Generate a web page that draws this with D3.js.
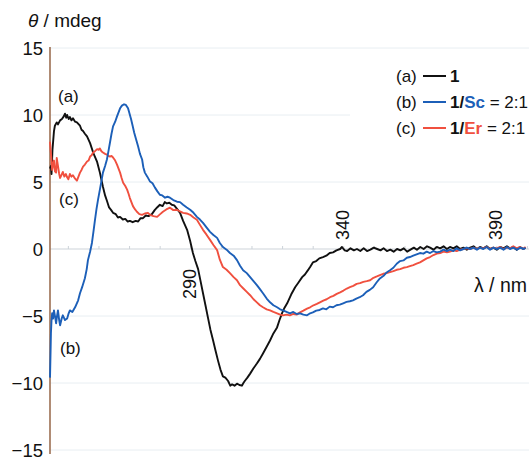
<!DOCTYPE html>
<html>
<head>
<meta charset="utf-8">
<script src="https://cdn.jsdelivr.net/npm/d3@7"></script>
<style>
  body { margin: 0; background: #fff; }
  text { font-family: "Liberation Sans", Arial, sans-serif; fill: #111; }
</style>
</head>
<body>
<svg width="529" height="459"></svg>
<script>
// CD spectra, [wavelength nm, theta mdeg]
const curveA = [[244.0,6.0],[244.3,6.2],[244.5,5.6],[244.8,7.4],[245.3,8.8],[245.6,9.2],[246.2,9.45],[246.6,9.3],[247.3,9.6],[247.9,9.7],[248.5,9.9],[248.9,10.1],[249.3,9.8],[249.6,10.0],[250.1,9.7],[250.5,9.85],[251.0,9.6],[251.5,9.75],[252.2,9.5],[252.8,9.45],[253.4,9.3],[253.8,9.2],[254.3,8.9],[254.8,8.8],[255.4,8.6],[256.1,8.4],[257.1,7.9],[258.1,7.2],[259.4,6.5],[260.3,5.7],[261.3,4.65],[262.0,4.0],[262.6,3.6],[263.3,3.1],[264.0,2.9],[264.6,2.7],[265.5,2.6],[266.2,2.35],[266.9,2.4],[267.8,2.2],[268.6,2.25],[269.4,2.05],[270.1,2.1],[271.0,2.0],[272.0,2.1],[272.8,2.05],[273.6,2.3],[274.4,2.3],[275.3,2.5],[276.2,2.45],[277.3,2.6],[278.2,2.9],[279.0,3.1],[279.9,3.3],[280.8,3.2],[281.5,3.5],[282.2,3.4],[283.0,3.45],[283.8,3.3],[284.6,3.25],[285.5,3.0],[286.5,2.7],[287.5,2.1],[288.8,1.43],[289.8,0.6],[290.7,-0.3],[291.5,-0.9],[292.4,-1.5],[293.2,-2.4],[294.0,-3.3],[294.8,-4.2],[295.6,-5.1],[296.4,-6.0],[297.3,-6.83],[298.1,-7.6],[298.9,-8.33],[299.7,-9.0],[300.5,-9.5],[301.3,-9.6],[302.2,-9.85],[302.9,-10.2],[303.5,-10.1],[304.3,-10.2],[305.1,-10.05],[305.9,-10.15],[306.7,-10.2],[307.2,-10.0],[307.7,-9.83],[308.5,-9.6],[309.4,-9.3],[310.5,-8.9],[311.6,-8.55],[312.6,-8.2],[313.6,-7.8],[314.8,-7.3],[315.9,-6.83],[317.0,-6.3],[318.2,-5.85],[319.0,-5.3],[319.8,-4.8],[320.6,-4.4],[321.5,-4.05],[322.8,-3.4],[324.1,-2.85],[325.2,-2.5],[326.4,-2.1],[327.3,-1.9],[328.3,-1.58],[329.1,-1.3],[329.9,-1.0],[331.0,-0.9],[332.0,-0.7],[333.2,-0.6],[334.3,-0.5],[335.4,-0.3],[336.5,-0.25],[337.6,-0.1],[338.8,0],[339.4,0.15],[340.3,-0.1],[341.1,-0.15],[342.2,0.05],[343.3,-0.1],[344.3,0],[345.4,-0.15],[346.5,0.05],[347.6,-0.15],[348.7,-0.05],[349.8,0.1],[350.9,0],[352.0,-0.1],[353.0,0.05],[354.1,-0.15],[355.2,-0.05],[356.3,-0.2],[357.4,0],[358.5,-0.1],[359.6,0.05],[360.7,-0.2],[361.8,-0.05],[362.9,0.1],[363.9,-0.05],[365.0,0.15],[366.1,0],[367.2,0.2],[368.2,0.1],[369.3,-0.05],[370.4,0.15],[371.5,0.05],[372.6,0.2],[373.7,0],[374.7,0.15],[375.8,0.05],[376.9,0.2],[378.0,0],[379.1,0.1],[380.2,-0.05],[381.3,0.1],[382.4,0.2],[383.5,0],[384.5,0.15],[385.6,0.05],[386.7,0.2],[387.8,0],[388.9,0.1],[390.0,-0.05],[391.1,0.15],[392.2,0.05],[393.3,0.2],[394.3,0.05],[395.4,0.15],[396.5,-0.05],[397.6,0.15],[398.6,0],[399.4,0.1]];

const curveB = [[244.0,-9.6],[244.2,-7.5],[244.3,-6.3],[244.5,-5.3],[244.7,-4.8],[245.0,-5.2],[245.3,-4.58],[245.7,-5.1],[246.0,-5.55],[246.3,-5.0],[246.6,-4.58],[247.0,-5.3],[247.3,-5.7],[247.8,-5.2],[248.2,-4.95],[248.9,-5.3],[249.6,-5.18],[250.1,-4.8],[250.5,-4.58],[251.3,-4.7],[252.2,-4.35],[253.2,-3.83],[253.8,-3.3],[254.5,-2.85],[255.4,-2.18],[256.0,-1.5],[256.4,-0.83],[257.1,-0.2],[257.7,0.45],[258.2,1.3],[258.7,2.18],[259.2,3.0],[259.7,3.68],[260.3,4.43],[261.3,5.7],[262.0,6.2],[262.6,6.68],[263.1,7.3],[263.6,7.95],[264.1,8.6],[264.6,9.15],[265.3,9.5],[265.9,9.9],[266.4,10.2],[266.9,10.5],[267.5,10.7],[268.2,10.8],[268.8,10.75],[269.5,10.5],[270.0,10.1],[270.5,9.68],[271.0,9.2],[271.5,8.7],[272.1,8.2],[272.8,7.65],[273.4,7.1],[274.1,6.68],[274.5,6.1],[275.0,5.7],[275.8,5.4],[276.7,5.03],[277.5,4.9],[278.3,4.58],[279.1,4.3],[279.9,4.05],[280.7,4.0],[281.6,3.83],[282.4,3.9],[283.2,3.83],[284.3,3.65],[285.5,3.53],[286.5,3.5],[287.5,3.3],[288.7,3.1],[289.8,2.93],[290.9,2.7],[292.0,2.4],[293.0,2.2],[294.0,1.95],[295.2,1.6],[296.3,1.28],[297.4,1.05],[298.6,0.83],[299.5,0.45],[300.5,0.15],[301.7,-0.05],[302.8,-0.3],[304.0,-0.5],[305.1,-0.83],[306.1,-1.25],[307.1,-1.58],[308.3,-1.8],[309.4,-2.1],[310.5,-2.4],[311.6,-2.7],[312.6,-3.0],[313.6,-3.3],[314.8,-3.7],[315.9,-3.98],[317.0,-4.2],[318.2,-4.35],[319.2,-4.5],[320.1,-4.58],[321.3,-4.7],[322.4,-4.8],[323.5,-4.7],[324.6,-4.85],[325.7,-4.8],[326.8,-4.9],[328.0,-4.95],[329.0,-4.8],[329.9,-4.73],[331.0,-4.6],[332.1,-4.55],[333.2,-4.43],[334.3,-4.5],[335.4,-4.3],[336.5,-4.35],[337.6,-4.2],[338.7,-4.15],[339.8,-4.05],[340.9,-3.95],[342.0,-3.9],[343.0,-3.83],[344.1,-3.7],[345.2,-3.6],[346.3,-3.45],[347.4,-3.2],[348.5,-3.05],[349.6,-2.85],[350.7,-2.5],[351.8,-2.2],[353.0,-2.0],[354.0,-1.75],[355.1,-1.58],[356.2,-1.4],[357.3,-1.1],[358.4,-0.9],[359.5,-0.85],[360.6,-0.65],[361.6,-0.6],[362.7,-0.5],[363.8,-0.4],[364.9,-0.3],[366.0,-0.35],[367.1,-0.2],[368.2,-0.3],[369.3,-0.15],[370.4,-0.25],[371.5,-0.2],[372.6,-0.05],[373.7,-0.15],[374.7,-0.05],[375.8,-0.15],[376.9,0.05],[378.0,-0.1],[379.1,0],[380.2,0.1],[381.3,0],[382.4,0.1],[383.5,-0.05],[384.5,0.1],[385.6,0],[386.7,0.15],[387.8,-0.05],[388.9,0.1],[390.0,0],[391.1,0.1],[392.2,-0.05],[393.3,0.15],[394.3,0],[395.4,0.1],[396.6,-0.05],[397.7,0.1],[398.8,0],[399.4,0.1]];

const curveC = [[244.0,8.0],[244.2,7.4],[244.4,6.9],[244.7,5.9],[245.0,6.3],[245.3,6.6],[245.6,5.8],[246.0,5.7],[246.2,6.8],[246.6,6.2],[247.0,5.6],[247.3,5.3],[247.7,5.5],[248.2,5.75],[248.7,5.4],[249.2,5.6],[249.6,5.35],[250.0,5.2],[250.5,5.6],[251.0,5.4],[251.5,5.5],[252.2,5.25],[252.8,5.1],[253.3,5.4],[253.8,5.7],[254.3,5.9],[254.8,6.15],[255.4,6.3],[256.1,6.53],[256.6,6.6],[257.1,6.9],[257.6,7.0],[258.1,7.2],[258.7,7.3],[259.4,7.45],[259.9,7.4],[260.3,7.5],[260.8,7.3],[261.3,7.2],[262.0,7.1],[262.6,7.05],[263.1,6.95],[263.6,6.9],[264.1,6.95],[264.6,6.83],[265.3,6.6],[265.9,6.3],[266.4,6.0],[266.9,5.7],[267.4,5.3],[267.9,4.95],[268.6,4.7],[269.2,4.43],[269.7,4.1],[270.1,3.8],[270.6,3.5],[271.1,3.2],[271.8,2.95],[272.4,2.78],[273.2,2.6],[274.1,2.55],[275.0,2.65],[276.0,2.7],[276.7,2.55],[277.8,2.45],[279.0,2.4],[280.0,2.6],[280.9,2.78],[282.0,2.95],[283.2,3.08],[284.3,2.9],[285.5,2.93],[286.5,2.8],[287.5,2.7],[288.7,2.65],[289.8,2.55],[290.9,2.35],[292.0,2.18],[293.0,1.8],[294.0,1.43],[295.2,1.05],[296.3,0.68],[297.4,0.3],[298.6,-0.08],[299.5,-0.8],[300.5,-1.35],[301.7,-1.55],[302.8,-1.8],[304.0,-2.1],[305.1,-2.33],[306.1,-2.7],[307.1,-2.93],[308.3,-3.2],[309.4,-3.45],[310.5,-3.75],[311.6,-3.98],[312.6,-4.2],[313.6,-4.35],[314.8,-4.5],[315.9,-4.58],[317.0,-4.7],[318.2,-4.8],[319.2,-4.9],[320.1,-4.95],[321.3,-4.9],[322.4,-4.95],[323.5,-4.85],[324.6,-4.9],[325.7,-4.73],[326.8,-4.6],[328.0,-4.45],[329.0,-4.35],[330.1,-4.2],[331.2,-4.1],[332.2,-3.98],[333.3,-3.85],[334.4,-3.75],[335.5,-3.6],[336.6,-3.5],[337.7,-3.35],[338.8,-3.23],[339.9,-3.1],[341.0,-2.95],[342.0,-2.85],[343.1,-2.75],[344.2,-2.6],[345.3,-2.55],[346.4,-2.45],[347.5,-2.4],[348.6,-2.33],[349.7,-2.15],[350.8,-2.05],[351.8,-1.95],[352.9,-1.85],[354.0,-1.8],[355.1,-1.73],[356.2,-1.65],[357.3,-1.55],[358.4,-1.5],[359.5,-1.4],[360.6,-1.35],[361.6,-1.28],[362.7,-1.2],[363.8,-1.1],[364.9,-1.0],[366.0,-0.85],[367.1,-0.7],[368.2,-0.6],[369.3,-0.45],[370.4,-0.35],[371.5,-0.3],[372.6,-0.2],[373.7,-0.25],[374.7,-0.2],[375.8,-0.1],[376.9,-0.15],[378.0,-0.05],[379.1,0],[380.2,0.05],[381.3,0],[382.4,0.1],[383.5,0],[384.5,0.1],[385.6,0.05],[386.7,0.15],[387.8,0],[388.9,0.1],[390.0,0.05],[391.1,0.15],[392.2,0],[393.3,0.1],[394.3,0.05],[395.4,0.2],[396.5,0.05],[397.6,0.15],[398.7,0],[399.4,0.15]];

const yTicks = [15, 10, 5, 0, -5, -10, -15];
const xLabelTicks = [290, 340, 390];
const xMinorTicks = d3.range(250, 401, 10);

const colA = "#111111", colB = "#1c5fb8", colC = "#f0503f";

const svg = d3.select("svg");

const x = d3.scaleLinear().domain([244, 400]).range([50, 527.4]);
const y = d3.scaleLinear().domain([-15, 15]).range([450, 48]);

// faint grid lines
svg.append("g")
  .selectAll("line")
  .data(yTicks.filter(d => d !== 0))
  .join("line")
  .attr("x1", 50).attr("x2", 529)
  .attr("y1", d => y(d)).attr("y2", d => y(d))
  .attr("stroke", "#e8eef2").attr("stroke-width", 1);

// zero line with small ticks
const zero = svg.append("g");
zero.append("line")
  .attr("x1", 50).attr("x2", 529)
  .attr("y1", y(0)).attr("y2", y(0))
  .attr("stroke", "#cdd3d9").attr("stroke-width", 1);
zero.selectAll(".mt")
  .data(xMinorTicks)
  .join("line")
  .attr("class", "mt")
  .attr("x1", d => x(d)).attr("x2", d => x(d))
  .attr("y1", y(0)).attr("y2", y(0) - 3)
  .attr("stroke", "#cdd3d9");

// y axis line
svg.append("line")
  .attr("x1", 50).attr("x2", 50)
  .attr("y1", y(15) - 1).attr("y2", y(-15) + 4)
  .attr("stroke", "#9c6f52").attr("stroke-width", 1.6);

// y tick labels
svg.append("g")
  .selectAll("text")
  .data(yTicks)
  .join("text")
  .attr("x", 43)
  .attr("y", d => y(d))
  .attr("dy", "0.36em")
  .attr("text-anchor", "end")
  .attr("font-size", 18.5)
  .text(d => d < 0 ? "\u2212" + Math.abs(d) : d);

// x tick labels (rotated)
svg.append("g")
  .selectAll("text")
  .data(xLabelTicks)
  .join("text")
  .attr("transform", (d, i) => `translate(${x(d) - 1},${i === 0 ? 284 : 225}) rotate(-90)`)
  .attr("dy", "0.36em")
  .attr("text-anchor", "middle")
  .attr("font-size", 18)
  .text(d => d);

// axis titles
const yt = svg.append("text").attr("x", 28).attr("y", 27).attr("font-size", 19);
yt.append("tspan").attr("font-style", "italic").text("\u03b8");
yt.append("tspan").text(" / mdeg");

svg.append("text")
  .attr("x", 527).attr("y", 292)
  .attr("text-anchor", "end")
  .attr("font-size", 19.5)
  .text("\u03bb / nm");

// curves
const line = d3.line().x(d => x(d[0])).y(d => y(d[1]));
[[curveA, colA], [curveC, colC], [curveB, colB]].forEach(([data, c]) => {
  svg.append("path")
    .datum(data)
    .attr("fill", "none")
    .attr("stroke", c)
    .attr("stroke-width", 1.9)
    .attr("stroke-linejoin", "round")
    .attr("d", line);
});

// curve labels
svg.append("text").attr("x", 58).attr("y", 102).attr("font-size", 17).text("(a)");
svg.append("text").attr("x", 59).attr("y", 205).attr("font-size", 17).text("(c)");
svg.append("text").attr("x", 60).attr("y", 354).attr("font-size", 17).text("(b)");

// legend
const legend = svg.append("g");
legend.append("rect")
  .attr("x", 350).attr("y", 60).attr("width", 179).attr("height", 88)
  .attr("fill", "#fff");

const rows = [
  { tag: "(a)", color: colA, parts: [["1", "#111", "bold"]] },
  { tag: "(b)", color: colB, parts: [["1/", "#111", "bold"], ["Sc", colB, "bold"], [" = 2:1", "#111", "normal"]] },
  { tag: "(c)", color: colC, parts: [["1/", "#111", "bold"], ["Er", colC, "bold"], [" = 2:1", "#111", "normal"]] }
];
rows.forEach((r, i) => {
  const by = 82 + i * 26;
  legend.append("text").attr("x", 396).attr("y", by).attr("font-size", 17).text(r.tag);
  legend.append("line")
    .attr("x1", 423).attr("x2", 446)
    .attr("y1", by - 6).attr("y2", by - 6)
    .attr("stroke", r.color).attr("stroke-width", 2);
  const t = legend.append("text").attr("x", 450).attr("y", by).attr("font-size", 17);
  r.parts.forEach(p => {
    t.append("tspan").text(p[0]).style("fill", p[1]).attr("font-weight", p[2]);
  });
});
</script>
</body>
</html>
